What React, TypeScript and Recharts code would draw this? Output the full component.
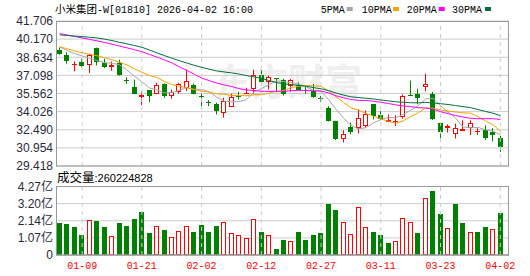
import React from 'react';
import { ComposedChart, Bar, Line, XAxis, YAxis, CartesianGrid, ReferenceLine } from 'recharts';

const titleText = '小米集团-W[01810] 2026-04-02 16:00';
const titleCjk = '小米集团';
const titleRest = '-W[01810] 2026-04-02 16:00';
const volumeCaption = '成交量';
const latestVolume = '260224828';

const dates = [
  '01-06', '01-07', '01-08', '01-09', '01-12', '01-13', '01-14', '01-15', '01-16', '01-19',
  '01-20', '01-21', '01-22', '01-23', '01-26', '01-27', '01-28', '01-29', '01-30', '02-02',
  '02-03', '02-04', '02-05', '02-06', '02-09', '02-10', '02-11', '02-12', '02-13', '02-16',
  '02-20', '02-23', '02-24', '02-25', '02-26', '02-27', '03-02', '03-03', '03-04', '03-05',
  '03-06', '03-09', '03-10', '03-11', '03-12', '03-13', '03-16', '03-17', '03-18', '03-19',
  '03-20', '03-23', '03-24', '03-25', '03-26', '03-27', '03-30', '03-31', '04-01', '04-02',
];

const labelDates = ['01-09', '01-21', '02-02', '02-12', '02-27', '03-11', '03-23', '04-02'];

const opens = [
  39.26, 38.85, 38.03, 38.20, 37.94, 39.38, 38.14, 37.90, 38.14, 36.70,
  36.09, 35.28, 35.84, 35.56, 36.40, 35.34, 35.71, 36.04, 36.32, 35.32,
  34.82, 34.64, 33.88, 34.44, 35.38, 35.58, 35.96, 37.16, 36.51, 36.85,
  36.74, 36.18, 36.26, 35.85, 35.76, 35.16, 34.36, 33.23, 31.69, 32.73,
  32.67, 32.81, 34.64, 33.71, 33.27, 33.19, 33.57, 35.47, 35.48, 36.09,
  35.54, 33.10, 32.62, 32.11, 32.49, 32.62, 32.35, 32.45, 32.26, 31.77,
];
const highs = [
  39.46, 39.07, 38.28, 38.51, 38.92, 39.45, 38.51, 38.28, 38.42, 36.93,
  36.74, 35.76, 35.86, 36.46, 36.42, 35.90, 36.46, 37.58, 36.40, 35.54,
  35.00, 34.78, 35.20, 35.54, 35.71, 36.04, 37.58, 37.52, 37.08, 36.88,
  36.82, 36.80, 36.51, 36.18, 36.38, 35.34, 34.49, 33.25, 32.45, 33.10,
  34.22, 34.13, 34.66, 34.07, 33.79, 33.71, 35.48, 36.66, 35.96, 37.24,
  35.71, 33.12, 32.95, 33.01, 33.29, 33.29, 32.62, 32.87, 32.62, 31.97,
];
const lows = [
  38.85, 38.09, 37.44, 37.78, 37.30, 37.94, 37.72, 37.50, 37.08, 36.38,
  35.54, 34.58, 34.83, 35.50, 35.20, 35.12, 35.54, 35.76, 35.48, 34.49,
  34.49, 33.79, 33.52, 34.40, 35.06, 35.54, 35.56, 36.46, 35.90, 35.67,
  35.39, 35.71, 35.81, 35.54, 35.20, 34.86, 33.18, 31.61, 31.41, 32.11,
  32.17, 32.67, 33.37, 33.31, 33.23, 32.81, 33.43, 35.34, 34.64, 35.76,
  33.31, 31.77, 32.26, 31.75, 32.39, 32.05, 32.05, 31.63, 31.50, 30.62,
];
const closes = [
  38.90, 38.28, 38.08, 37.92, 38.85, 38.20, 37.81, 37.94, 37.16, 36.66,
  35.56, 35.47, 35.34, 36.32, 35.34, 35.71, 36.38, 36.60, 35.56, 35.28,
  34.78, 34.07, 34.92, 35.25, 35.34, 35.62, 37.16, 36.55, 36.93, 36.78,
  35.48, 36.68, 35.90, 35.81, 35.25, 35.12, 33.23, 31.69, 32.11, 32.26,
  33.52, 33.79, 33.65, 33.43, 33.35, 33.23, 35.34, 35.42, 35.20, 36.38,
  33.37, 32.26, 32.81, 32.62, 32.53, 33.10, 32.39, 31.83, 32.03, 30.99,
];

const ma5 = [
  39.50, 39.20, 38.95, 38.75, 38.55, 38.35, 38.17, 38.14, 37.99, 37.55,
  37.03, 36.56, 36.04, 35.87, 35.61, 35.64, 35.82, 36.07, 35.92, 35.91,
  35.72, 35.26, 34.92, 34.86, 34.87, 35.04, 35.66, 35.98, 36.32, 36.61,
  36.58, 36.48, 36.35, 36.13, 35.82, 35.75, 35.06, 34.22, 33.48, 32.88,
  32.56, 32.67, 33.07, 33.33, 33.55, 33.49, 33.80, 34.15, 34.51, 35.11,
  35.14, 34.53, 34.00, 33.49, 32.72, 32.66, 32.69, 32.49, 32.38, 32.07,
];
const ma10 = [
  39.52, 39.35, 39.18, 39.01, 38.89, 38.76, 38.59, 38.42, 38.22, 37.98,
  37.65, 37.37, 37.09, 36.93, 36.58, 36.33, 36.19, 36.05, 35.89, 35.76,
  35.68, 35.54, 35.50, 35.39, 35.39, 35.38, 35.46, 35.45, 35.59, 35.74,
  35.81, 36.07, 36.17, 36.23, 36.22, 36.17, 35.77, 35.29, 34.81, 34.35,
  34.16, 33.87, 33.64, 33.41, 33.22, 33.03, 33.24, 33.61, 33.92, 34.33,
  34.32, 34.16, 34.08, 34.00, 33.92, 33.90, 33.61, 33.25, 32.93, 32.39,
];
const ma20 = [
  40.64, 40.52, 40.40, 40.27, 40.15, 40.02, 39.89, 39.74, 39.58, 39.43,
  39.28, 39.10, 38.88, 38.65, 38.41, 38.16, 37.83, 37.53, 37.20, 36.87,
  36.66, 36.45, 36.29, 36.16, 35.98, 35.86, 35.82, 35.75, 35.74, 35.75,
  35.74, 35.80, 35.83, 35.81, 35.80, 35.77, 35.62, 35.37, 35.20, 35.05,
  34.98, 34.97, 34.91, 34.82, 34.72, 34.60, 34.51, 34.45, 34.36, 34.34,
  34.24, 34.02, 33.86, 33.70, 33.57, 33.46, 33.42, 33.43, 33.43, 33.36,
];
const ma30 = [
  40.53, 40.48, 40.43, 40.38, 40.33, 40.27, 40.17, 40.05, 39.90, 39.77,
  39.63, 39.48, 39.25, 39.01, 38.78, 38.56, 38.35, 38.15, 37.95, 37.78,
  37.62, 37.48, 37.39, 37.31, 37.21, 37.08, 36.97, 36.86, 36.66, 36.49,
  36.38, 36.32, 36.25, 36.18, 36.06, 35.96, 35.81, 35.60, 35.43, 35.28,
  35.22, 35.16, 35.10, 35.01, 34.94, 34.86, 34.82, 34.78, 34.77, 34.81,
  34.76, 34.70, 34.63, 34.54, 34.45, 34.37, 34.21, 34.05, 33.89, 33.69,
];

// volume in 亿 (100 million shares)
const volumes = [
  2.02, 1.93, 1.77, 1.25, 2.18, 2.14, 1.77, 1.19, 2.02, 1.83,
  2.27, 2.70, 1.39, 1.81, 1.58, 1.12, 1.50, 1.81, 1.44, 1.89,
  1.44, 1.83, 2.06, 1.37, 1.25, 1.08, 2.27, 1.44, 1.23, 0.37,
  0.94, 0.87, 1.44, 0.94, 1.25, 1.37, 3.18, 2.81, 2.06, 1.31,
  3.00, 1.75, 1.44, 1.25, 0.75, 0.87, 2.31, 2.06, 1.37, 3.56,
  4.01, 2.56, 1.68, 3.18, 2.00, 1.44, 1.44, 1.75, 1.62, 2.60,
];
// 1 = red (up day), 0 = green
const volumeUp = [
  0, 0, 0, 0, 1, 0, 0, 1, 0, 0,
  0, 0, 0, 1, 0, 1, 1, 1, 0, 0,
  0, 0, 1, 1, 1, 1, 1, 0, 1, 0,
  0, 1, 0, 0, 0, 0, 0, 0, 1, 1,
  1, 1, 0, 0, 0, 1, 1, 1, 0, 1,
  0, 0, 1, 0, 0, 1, 0, 0, 1, 0,
];

const priceTicks = [29.418, 30.954, 32.49, 34.026, 35.562, 37.098, 38.634, 40.17, 41.706];
const volumeTicks = [0, 1.0675, 2.135, 3.2025, 4.27];
const volumeTickLabels = ['0', '1.07亿', '2.14亿', '3.20亿', '4.27亿'];

const maLabels = ['5PMA', '10PMA', '20PMA', '30PMA'];
const maKeys = ['ma5', 'ma10', 'ma20', 'ma30'];
const maColors = ['#a6a6a6', '#f5a300', '#ff00ff', '#00703c'];

const RED = '#ff0000';
const GREEN = '#008000';
const GRID = '#cccccc';
const BORDER = '#999999';
const AXIS_TEXT = '#2a2a3a';

const data = dates.map((d, i) => ({
  date: d,
  open: opens[i],
  high: highs[i],
  low: lows[i],
  close: closes[i],
  range: [lows[i], highs[i]],
  ma5: ma5[i],
  ma10: ma10[i],
  ma20: ma20[i],
  ma30: ma30[i],
  vol: volumes[i],
  volUp: volumeUp[i] === 1,
}));

function Candle(props: any) {
  const { x, y, width, height, payload } = props;
  if (x == null || y == null || !payload) return null;
  const top = Math.min(y, y + height);
  const bot = Math.max(y, y + height);
  const { open, close, high, low } = payload;
  const span = high - low;
  const py = (v: number) => (span > 0 ? top + ((high - v) / span) * (bot - top) : top);
  const cx = Math.round(x + width / 2 - 0.5) + 0.5;
  const up = close > open;
  const color = up ? RED : GREEN;
  const bTop = py(Math.max(open, close));
  const bBot = py(Math.min(open, close));
  const rTop = Math.round(bTop);
  const rBot = Math.round(bBot);
  if (rBot - rTop < 1) {
    const yy = rTop + 0.5;
    return (
      <g>
        <line x1={cx} x2={cx} y1={top} y2={bot} stroke={color} strokeWidth={1} />
        <line x1={cx - 2.5} x2={cx + 2.5} y1={yy} y2={yy} stroke={color} strokeWidth={1} />
      </g>
    );
  }
  if (up) {
    return (
      <g>
        <line x1={cx} x2={cx} y1={top} y2={rTop} stroke={color} strokeWidth={1} />
        <line x1={cx} x2={cx} y1={rBot} y2={bot} stroke={color} strokeWidth={1} />
        <rect x={cx - 2} y={rTop + 0.5} width={4} height={Math.max(rBot - rTop - 1, 1)} fill="#ffffff" stroke={color} strokeWidth={1} />
      </g>
    );
  }
  return (
    <g>
      <line x1={cx} x2={cx} y1={top} y2={bot} stroke={color} strokeWidth={1} />
      <rect x={cx - 2.5} y={rTop} width={5} height={rBot - rTop} fill={color} />
    </g>
  );
}

function VolBar(props: any) {
  const { x, y, width, height, payload } = props;
  if (x == null || y == null || !payload) return null;
  const top = Math.round(Math.min(y, y + height));
  const bot = Math.round(Math.max(y, y + height));
  const cx = Math.round(x + width / 2 - 0.5) + 0.5;
  if (payload.volUp) {
    return <rect x={cx - 2} y={top + 0.5} width={4} height={Math.max(bot - top - 1, 1)} fill="#ffffff" stroke={RED} strokeWidth={1} />;
  }
  return <rect x={cx - 2.5} y={top} width={5} height={bot - top} fill={GREEN} />;
}

const monoFont = "'Liberation Mono', 'DejaVu Sans Mono', monospace";
const sansFont = "'Liberation Sans', Arial, 'Noto Sans CJK SC', sans-serif";
const cjkFont = "'Noto Sans CJK SC', sans-serif";

export default function App() {
  return (
    <div style={{ position: 'absolute', left: 0, top: 0, width: 530, height: 276, background: '#ffffff', overflow: 'hidden' }}>
      <svg width={530} height={276} style={{ position: 'absolute', left: 0, top: 0 }}>
        <text x={214} y={96} fontSize={37} fontWeight={700} fill="#efefef" fontFamily={cjkFont}>东方财富</text>
      </svg>

      <div style={{ position: 'absolute', left: 0, top: 0 }}>
        <ComposedChart width={530} height={178} data={data} margin={{ top: 21, right: 21, bottom: 12, left: 0 }}>
          <CartesianGrid horizontal vertical={false} stroke={GRID} />
          <XAxis dataKey="date" hide padding={{ left: 0, right: 5 }} />
          <YAxis
            domain={[29.418, 41.706]}
            ticks={priceTicks}
            allowDataOverflow
            width={56}
            tickSize={0}
            tickMargin={3}
            axisLine={false}
            tickLine={false}
            interval={0}
            tickFormatter={(v: number) => v.toFixed(3)}
            tick={{ fill: AXIS_TEXT, fontSize: 12, fontFamily: sansFont }}
          />
          {labelDates.map((d) => (
            <ReferenceLine key={d} x={d} stroke={GRID} strokeDasharray="4 4" />
          ))}
          <Bar dataKey="range" barSize={5} isAnimationActive={false} shape={(p: any) => <Candle {...p} />} />
          {maKeys.map((k, i) => (
            <Line key={k} type="linear" dataKey={k} stroke={maColors[i]} strokeWidth={1} dot={false} activeDot={false} isAnimationActive={false} />
          ))}
        </ComposedChart>
      </div>

      <div style={{ position: 'absolute', left: 0, top: 176 }}>
        <ComposedChart width={530} height={100} data={data} margin={{ top: 10.5, right: 21, bottom: 0, left: 0 }}>
          <CartesianGrid horizontal vertical={false} stroke={GRID} />
          <XAxis
            dataKey="date"
            ticks={labelDates}
            interval={0}
            height={21}
            padding={{ left: 0, right: 5 }}
            tickSize={0}
            tickMargin={7}
            tickLine={false}
            axisLine={{ stroke: BORDER }}
            tick={{ fill: RED, fontSize: 10, fontFamily: monoFont }}
          />
          <YAxis
            domain={[0, 4.27]}
            ticks={volumeTicks}
            allowDataOverflow
            width={56}
            tickSize={0}
            tickMargin={3}
            axisLine={false}
            tickLine={false}
            interval={0}
            tickFormatter={(v: number) => volumeTickLabels[volumeTicks.indexOf(v)] ?? String(v)}
            tick={{ fill: AXIS_TEXT, fontSize: 12, fontFamily: sansFont }}
          />
          {labelDates.map((d) => (
            <ReferenceLine key={d} x={d} stroke={GRID} strokeDasharray="4 4" />
          ))}
          <Bar dataKey="vol" barSize={5} isAnimationActive={false} shape={(p: any) => <VolBar {...p} />} />
        </ComposedChart>
      </div>

      <svg width={530} height={276} style={{ position: 'absolute', left: 0, top: 0, pointerEvents: 'none' }}>
        <rect x={56.5} y={21.5} width={452} height={144.5} fill="none" stroke={BORDER} strokeWidth={1} />
        <rect x={56.5} y={186.5} width={452} height={68.5} fill="none" stroke={BORDER} strokeWidth={1} />
        <text x={55} y={13} fill="#000000" aria-label={titleText}>
          <tspan fontFamily={cjkFont} fontSize={10.5}>{titleCjk}</tspan>
          <tspan fontFamily={monoFont} fontSize={10}>{titleRest}</tspan>
        </text>
        {maLabels.map((lab, i) => {
          const xs = [320.7, 361.7, 406.7, 452];
          const sq = [346.7, 393, 438.7, 485];
          return (
            <g key={lab}>
              <text x={xs[i]} y={13} fontFamily={monoFont} fontSize={10} fill="#000000">{lab}</text>
              <rect x={sq[i]} y={7} width={6} height={4} fill={maColors[i]} />
            </g>
          );
        })}
        <text x={57} y={182} fill="#000000">
          <tspan fontFamily={cjkFont} fontSize={12.5}>{volumeCaption}</tspan>
          <tspan fontFamily={sansFont} fontSize={11}>{':' + latestVolume}</tspan>
        </text>
      </svg>
    </div>
  );
}
